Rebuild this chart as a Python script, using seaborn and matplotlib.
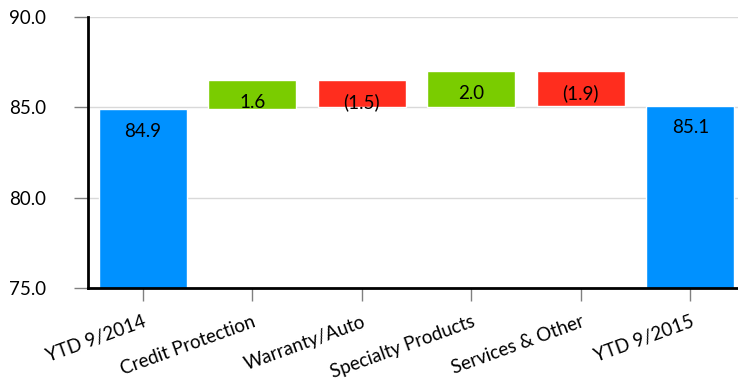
import matplotlib
matplotlib.use("Agg")
import matplotlib.pyplot as plt
import seaborn as sns
import pandas as pd

categories = ["YTD 9/2014", "Credit Protection", "Warranty/Auto",
              "Specialty Products", "Services & Other", "YTD 9/2015"]
changes = [84.9, 1.6, -1.5, 2.0, -1.9, 85.1]
is_total = [True, False, False, False, False, True]
y_ticks = [75.0, 80.0, 85.0, 90.0]

BLUE = "#0091FF"
GREEN = "#7ACC00"
RED = "#FF2D1E"

sns.set_theme(style="white")
plt.rcParams["font.family"] = ["Lato", "DejaVu Sans"]

# floating bar bottoms/heights for the waterfall
bottoms, heights, colors, labels = [], [], [], []
running = 0.0
for val, tot in zip(changes, is_total):
    if tot:
        bottoms.append(0.0)
        heights.append(val)
        colors.append(BLUE)
        labels.append(f"{val:.1f}")
        running = val
    else:
        if val >= 0:
            bottoms.append(running)
            heights.append(val)
            colors.append(GREEN)
            labels.append(f"{val:.1f}")
        else:
            bottoms.append(running + val)
            heights.append(-val)
            colors.append(RED)
            labels.append(f"({-val:.1f})")
        running += val

df = pd.DataFrame({"category": categories, "height": heights, "bottom": bottoms})

fig = plt.figure(figsize=(7.38, 3.83), dpi=100)
ax = fig.add_axes([88 / 738, 95 / 383, 657 / 738, 271 / 383])

for i, row in df.iterrows():
    sns.barplot(x=[row["category"]], y=[row["height"]], order=categories,
                bottom=row["bottom"], color=colors[i], saturation=1,
                width=0.8, ax=ax, zorder=2)

ax.set_ylim(75, 90)
ax.set_yticks(y_ticks)
ax.set_yticklabels([f"{t:.1f}" for t in y_ticks])
ax.yaxis.grid(True, color="#d9d9d9", linewidth=1, zorder=0)
ax.set_axisbelow(True)
ax.set_xlabel("")
ax.set_ylabel("")

for side in ["top", "right"]:
    ax.spines[side].set_visible(False)
for side in ["left", "bottom"]:
    ax.spines[side].set_color("black")
    ax.spines[side].set_linewidth(2)
    ax.spines[side].set_zorder(3)

ax.tick_params(axis="y", which="major", direction="out", length=10, width=1,
               color="#808080", left=True, pad=20, labelsize=13.5, labelcolor="black")
ax.tick_params(axis="x", which="major", direction="out", length=9, width=1,
               color="#808080", bottom=True, pad=9, labelsize=13.5, labelcolor="black")
for lbl in ax.get_xticklabels():
    lbl.set_rotation(20)
    lbl.set_ha("right")
    lbl.set_rotation_mode("anchor")

# value labels just inside the top of each bar
for i, (b, h, lab) in enumerate(zip(bottoms, heights, labels)):
    ax.annotate(lab, xy=(i, b + h), xytext=(0, -22), textcoords="offset pixels",
                ha="center", va="center", fontsize=13.5, color="black", zorder=4)

fig.savefig("out.png", dpi=100)
